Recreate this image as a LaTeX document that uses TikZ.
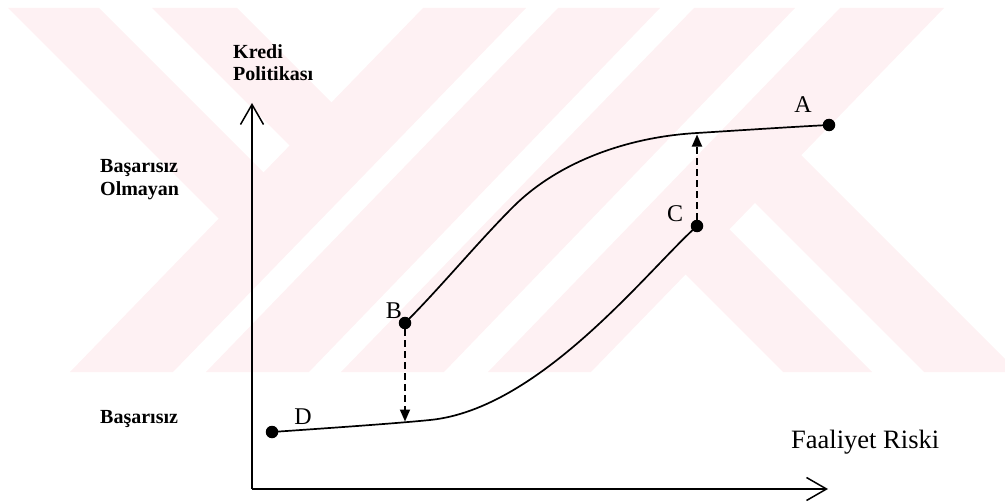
\documentclass[tikz,border=0pt]{standalone}
\usepackage{fontspec}
\setmainfont{Liberation Serif}
\usetikzlibrary{arrows.meta}
\definecolor{wm}{RGB}{254,241,243}
\begin{document}
\begin{tikzpicture}[x=1pt,y=-1pt,
  dot/.style={circle,fill=black,inner sep=0pt,minimum size=12.5pt},
  lbl/.style={inner sep=0pt,font=\fontsize{24}{26}\selectfont},
  axistxt/.style={inner sep=0pt,align=left,font=\bfseries\fontsize{20}{22.5}\selectfont,anchor=north west},
  axisline/.style={line width=1.6pt,-{Straight Barb[length=20pt,width=23pt,line width=1.5pt]}},
  curve/.style={line width=1.7pt,line join=round},
  jump/.style={line width=1.8pt,dash pattern=on 7pt off 4pt,-{Triangle[length=12pt,width=10pt]}},
  band/.style={fill=wm}]
\useasboundingbox (0,0) rectangle (1005,503);
% watermark
\begin{scope}
\clip (0,8) rectangle (1005,372);
\fill[band] (423,8) -- (526,8) -- (173,372) -- (70,372) -- cycle;
\fill[band] (558,8) -- (660,8) -- (309,372) -- (206,372) -- cycle;
\fill[band] (694,8) -- (795,8) -- (444,372) -- (341,372) -- cycle;
\fill[band] (840,8) -- (944,8) -- (591,372) -- (488,372) -- cycle;
\fill[band] (8,8) -- (99,8) -- (289.6,198.6) -- (244.8,244.8) -- cycle;
\fill[band] (152,8) -- (237,8) -- (357.6,128.6) -- (315.7,171.7) -- cycle;
\fill[band] (659.3,248.3) -- (703.1,203.1) -- (872,372) -- (783,372) -- cycle;
\fill[band] (728.7,176.7) -- (774.9,128.9) -- (1018,372) -- (924,372) -- cycle;
\end{scope}
% axes
\coordinate (O) at (252,489);
\coordinate (Ytip) at (252,103);
\coordinate (Xtip) at (828,489);
\draw[axisline] (O) -- (Ytip);
\draw[axisline] (O) -- (Xtip);
% axis texts
\node[axistxt] (ylab) at (233,44) {Kredi\\Politikası};
\node[axistxt] (top) at (100,159.5) {Başarısız\\Olmayan};
\node[inner sep=0pt,anchor=base west,font=\bfseries\fontsize{20}{22.5}\selectfont] (bottom) at (100,423) {Başarısız};
\node[inner sep=0pt,anchor=base west,font=\fontsize{26.5}{28}\selectfont] (xlab) at (791,448) {Faaliyet Riski};
% points
\node[dot] (A) at (829,125) {};
\node[dot] (B) at (405,323) {};
\node[dot] (C) at (697,226) {};
\node[dot] (D) at (272,432) {};
\node[lbl] (lA) at (803,105) {A};
\node[lbl] (lB) at (394,311) {B};
\node[lbl] (lC) at (675,214) {C};
\node[lbl] (lD) at (303,417) {D};
% curves
\coordinate (M) at (513,207);
\coordinate (P) at (697,133);
\coordinate (Q) at (430,420);
\draw[curve] (B.center) .. controls (440,288) and (478,242) .. (M)
  .. controls (558,162) and (627,137) .. (P)
  .. controls (745,130) and (790,127) .. (A.center);
\draw[curve] (D.center) .. controls (330,428) and (395,423.5) .. (Q)
  .. controls (540,409) and (647,271) .. (C.center);
% jumps
\coordinate (Bt) at (405,421.5);
\coordinate (Ct) at (697,134.5);
\draw[jump] (B) -- (Bt);
\draw[jump] (C) -- (Ct);
\end{tikzpicture}
\end{document}
